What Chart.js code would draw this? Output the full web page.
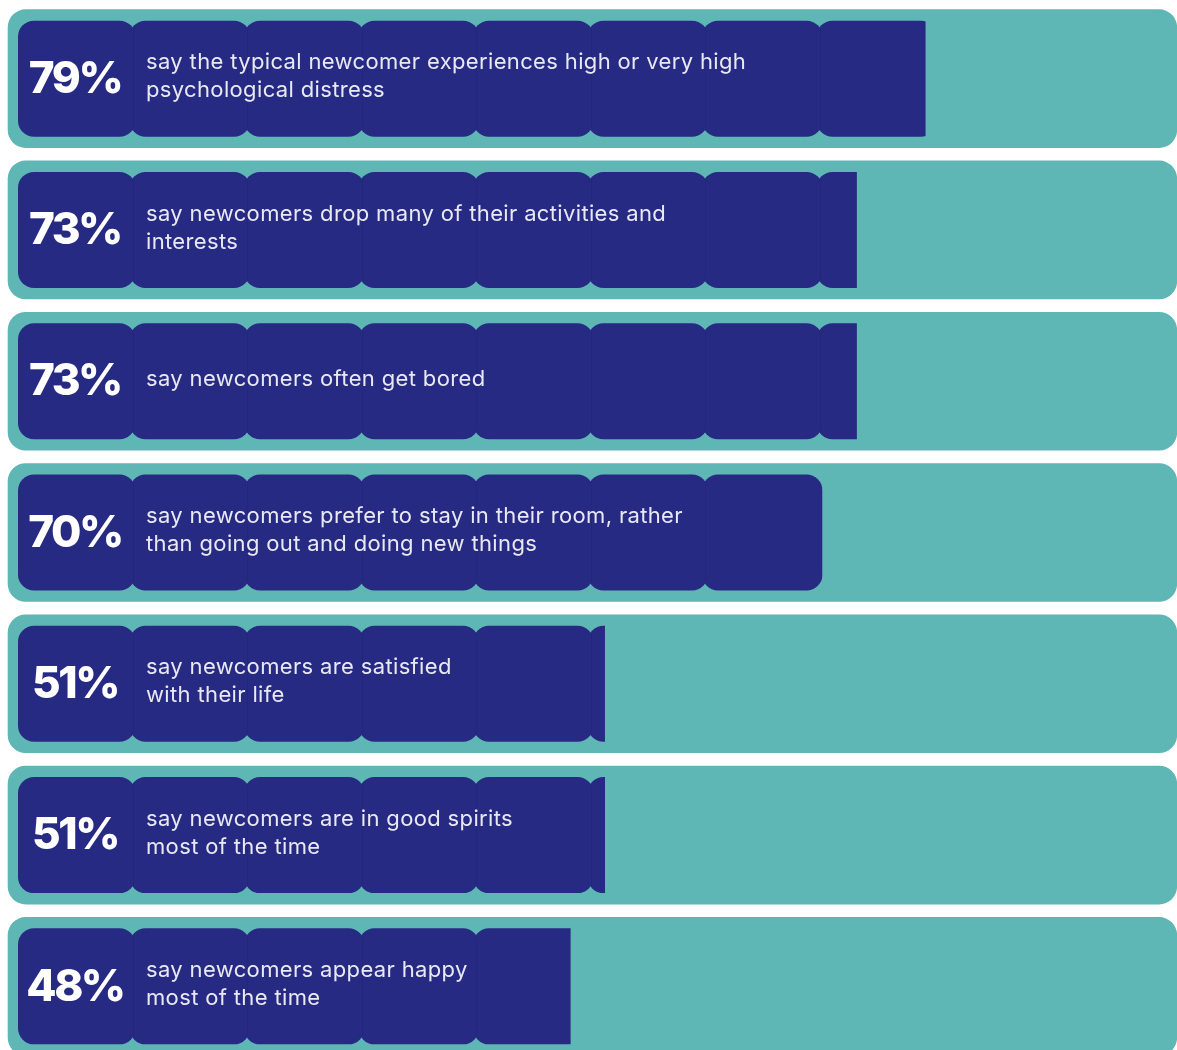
<!DOCTYPE html>
<html>
<head>
<meta charset="utf-8">
<script src="https://cdn.jsdelivr.net/npm/chart.js@4.4.1/dist/chart.umd.min.js"></script>
<style>
  html, body { margin: 0; padding: 0; background: #ffffff; overflow: hidden; }
  .chart { width: 1177px; height: 1062px; position: relative; }
</style>
</head>
<body>
<div class="chart"><canvas id="chart"></canvas></div>
<script>
// survey rows, top to bottom
const categories = [
    ["say the typical newcomer experiences high or very high", "psychological distress"],
    ["say newcomers drop many of their activities and", "interests"],
    ["say newcomers often get bored"],
    ["say newcomers prefer to stay in their room, rather", "than going out and doing new things"],
    ["say newcomers are satisfied", "with their life"],
    ["say newcomers are in good spirits", "most of the time"],
    ["say newcomers appear happy", "most of the time"]
];
const percentages = [79, 73, 73, 70, 51, 51, 48];
const segmentSize = 10; // each rounded block on the bar is 10%

const NAVY = "#272a83";
const TEAL = "#5fb7b5";

// draws the scalloped navy blocks and the texts on top of each bar
const pillPlugin = {
    id: "pills",
    afterDatasetsDraw(chart) {
        const ctx = chart.ctx;
        const xScale = chart.scales.x;
        const meta = chart.getDatasetMeta(0);
        const r = 16, ext = 3;

        meta.data.forEach((bar, i) => {
            const { x, y, base, height } = bar.getProps(["x", "y", "base", "height"], true);
            const top = y - height / 2;
            const value = percentages[i];

            ctx.save();
            ctx.beginPath();
            ctx.rect(base - 1, top - 2, x + ext - base + 2, height + 4);
            ctx.clip();
            ctx.fillStyle = TEAL;
            ctx.fillRect(base - 1, top - 2, x + ext - base + 3, height + 4);

            ctx.fillStyle = NAVY;
            const count = Math.ceil(value / segmentSize);
            ctx.beginPath();
            ctx.rect(base, top - 2, x + ext - base, height + 4);
            ctx.clip();
            for (let k = 0; k < count; k++) {
                const x0 = k === 0 ? base : xScale.getPixelForValue(k * segmentSize) - ext;
                const x1 = xScale.getPixelForValue((k + 1) * segmentSize) + ext;
                ctx.beginPath();
                ctx.roundRect(x0, top, x1 - x0, height, r);
                ctx.fill();
            }
            // faint seams between blocks
            ctx.strokeStyle = "rgba(20, 20, 90, 0.18)";
            ctx.lineWidth = 1;
            for (let k = 1; k < count; k++) {
                const sx = Math.round(xScale.getPixelForValue(k * segmentSize)) + 0.5;
                ctx.beginPath();
                ctx.moveTo(sx, top + 8);
                ctx.lineTo(sx, top + height - 8);
                ctx.stroke();
            }
            ctx.restore();

            // big percentage
            ctx.save();
            ctx.fillStyle = "#ffffff";
            ctx.font = "800 44px Inter, 'Open Sans', sans-serif";
            ctx.letterSpacing = "-2.5px";
            ctx.textAlign = "center";
            ctx.textBaseline = "middle";
            ctx.fillText(value + "%", base + 57, y + 1);

            // description
            const lines = categories[i];
            const lh = 28;
            ctx.fillStyle = "#e9e9f4";
            ctx.font = "400 22px Inter, 'Open Sans', sans-serif";
            ctx.letterSpacing = "0.35px";
            ctx.textAlign = "left";
            const startY = y - 2 - (lines.length - 1) * lh / 2;
            lines.forEach((line, j) => {
                ctx.fillText(line, base + 128, startY + j * lh);
            });
            ctx.restore();
        });
    }
};

new Chart(document.getElementById("chart"), {
    type: "bar",
    data: {
        labels: categories.map(c => c.join(" ")),
        datasets: [
            {
                label: "Share",
                data: percentages,
                backgroundColor: NAVY,
                barThickness: 116,
                grouped: false,
                order: 0,
                borderSkipped: false,
                borderRadius: { topLeft: 16, bottomLeft: 16, topRight: 0, bottomRight: 0 }
            },
            {
                label: "Track",
                data: percentages.map(() => [-0.87, 101.2]),
                backgroundColor: TEAL,
                barThickness: 138,
                grouped: false,
                order: 1,
                borderSkipped: false,
                borderRadius: 18
            }
        ]
    },
    options: {
        indexAxis: "y",
        responsive: true,
        maintainAspectRatio: false,
        animation: false,
        layout: { padding: { top: 3, bottom: 0, left: 0, right: 0 } },
        scales: {
            x: { display: false, min: -1.572, max: 101.22 },
            y: { display: false, offset: true }
        },
        plugins: {
            legend: { display: false },
            tooltip: { enabled: false }
        }
    },
    plugins: [pillPlugin]
});
</script>
</body>
</html>
